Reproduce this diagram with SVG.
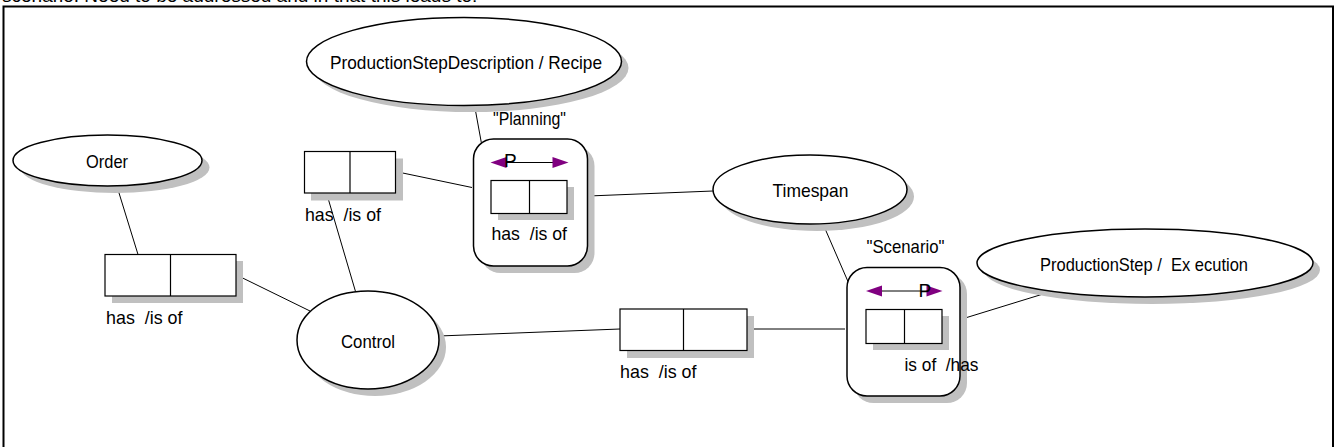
<svg xmlns="http://www.w3.org/2000/svg" width="1335" height="447" viewBox="0 0 1335 447">
  <defs>
    <style>
      text { font-family: "Liberation Sans", Arial, sans-serif; font-size: 19px; fill: #000; white-space: pre; }
      .frame { fill: #fff; stroke: #000; stroke-width: 2; }
      .shadow { fill: #c0c0c0; stroke: none; }
      .shape { fill: #fff; stroke: #000; stroke-width: 1.5; }
      .cell { fill: #fff; stroke: #000; stroke-width: 1.2; }
      .wire { fill: none; stroke: #000; stroke-width: 1; }
      .head { fill: #800080; stroke: none; }
    </style>
  </defs>

  <rect width="1335" height="447" fill="#fff"/>
  <!-- leading text line, mostly outside the page -->
  <text x="2" y="1.5" fill="#777">scenario. Need to be addressed and in that this leads to:</text>
  <rect class="frame" x="3.5" y="6.5" width="1329.5" height="450"/>

  <!-- connectors -->
  <g id="connectors">
    <line class="wire" x1="117" y1="186.5" x2="138" y2="254.5"/>
    <line class="wire" x1="236.5" y1="275" x2="310" y2="311"/>
    <line class="wire" x1="326.5" y1="193" x2="355.5" y2="291.5"/>
    <line class="wire" x1="395.5" y1="171.5" x2="472" y2="187.5"/>
    <line class="wire" x1="475" y1="108" x2="491" y2="195.5"/>
    <line class="wire" x1="576" y1="196.5" x2="713" y2="191"/>
    <line class="wire" x1="439" y1="336" x2="620" y2="329"/>
    <line class="wire" x1="747" y1="329" x2="845" y2="329"/>
    <line class="wire" x1="823" y1="224" x2="866" y2="323"/>
    <line class="wire" x1="950.5" y1="322.5" x2="1048" y2="292.5"/>
  </g>

  <!-- entity: ProductionStepDescription / Recipe -->
  <g id="recipe">
    <ellipse class="shadow" cx="471" cy="68" rx="157.5" ry="44"/>
    <ellipse class="shape" cx="464" cy="61.5" rx="157.5" ry="44"/>
    <text x="330" y="68.5" textLength="272" lengthAdjust="spacingAndGlyphs">ProductionStepDescription / Recipe</text>
  </g>

  <!-- entity: Order -->
  <g id="order">
    <ellipse class="shadow" cx="115" cy="167.5" rx="94.5" ry="25.5"/>
    <ellipse class="shape" cx="107.5" cy="160.5" rx="94.5" ry="25.5"/>
    <text x="86" y="167.5" textLength="42" lengthAdjust="spacingAndGlyphs">Order</text>
  </g>

  <!-- entity: Control -->
  <g id="control">
    <ellipse class="shadow" cx="375" cy="347" rx="71" ry="49"/>
    <ellipse class="shape" cx="368" cy="340" rx="71" ry="49"/>
    <text x="341" y="347.5" textLength="54" lengthAdjust="spacingAndGlyphs">Control</text>
  </g>

  <!-- entity: Timespan -->
  <g id="timespan">
    <ellipse class="shadow" cx="817" cy="196.5" rx="97" ry="34.5"/>
    <ellipse class="shape" cx="810" cy="189.5" rx="97" ry="34.5"/>
    <text x="772.5" y="197" textLength="76" lengthAdjust="spacingAndGlyphs">Timespan</text>
  </g>

  <!-- entity: ProductionStep / Execution -->
  <g id="execution">
    <ellipse class="shadow" cx="1152" cy="270" rx="168" ry="34"/>
    <ellipse class="shape" cx="1145" cy="263" rx="168" ry="34"/>
    <text x="1040" y="271" textLength="208" lengthAdjust="spacingAndGlyphs">ProductionStep /  Ex ecution</text>
  </g>

  <!-- relation: Order - Control -->
  <g id="rel-order-control">
    <rect class="shadow" x="112" y="261" width="131" height="42"/>
    <rect class="cell" x="105" y="254.5" width="131" height="41.5"/>
    <line class="cell" x1="170.5" y1="254.5" x2="170.5" y2="296"/>
    <text x="106" y="323.5" textLength="76.5" lengthAdjust="spacingAndGlyphs">has  /is of</text>
  </g>

  <!-- relation: Control - Planning -->
  <g id="rel-control-planning">
    <rect class="shadow" x="311" y="158.5" width="92" height="42"/>
    <rect class="cell" x="304.5" y="151.5" width="91" height="41.5"/>
    <line class="cell" x1="350" y1="151.5" x2="350" y2="193"/>
    <text x="305" y="220.5" textLength="76" lengthAdjust="spacingAndGlyphs">has  /is of</text>
  </g>

  <!-- objectified relation: "Planning" -->
  <g id="planning">
    <text x="493" y="125" textLength="73" lengthAdjust="spacingAndGlyphs">"Planning"</text>
    <rect class="shadow" x="480.5" y="146" width="114" height="127" rx="20"/>
    <rect class="shape" x="473.5" y="139" width="114" height="127" rx="20"/>
    <line class="wire" x1="500" y1="162.5" x2="560" y2="162.5"/>
    <polygon class="head" points="490.5,162.5 506.5,157 506.5,168"/>
    <polygon class="head" points="568.5,162.5 552.5,157 552.5,168"/>
    <text x="504" y="167">P</text>
    <rect class="shadow" x="498" y="187" width="76" height="33"/>
    <rect class="cell" x="491" y="180.5" width="76" height="33"/>
    <line class="cell" x1="529.5" y1="180.5" x2="529.5" y2="213.5"/>
    <text x="491.5" y="240" textLength="75.5" lengthAdjust="spacingAndGlyphs">has  /is of</text>
  </g>

  <!-- relation: Control - Scenario -->
  <g id="rel-control-scenario">
    <rect class="shadow" x="627" y="316" width="127" height="42"/>
    <rect class="cell" x="620" y="309" width="127" height="41.5"/>
    <line class="cell" x1="683.5" y1="309" x2="683.5" y2="350.5"/>
    <text x="620" y="377.5" textLength="76.5" lengthAdjust="spacingAndGlyphs">has  /is of</text>
  </g>

  <!-- objectified relation: "Scenario" -->
  <g id="scenario">
    <text x="866.5" y="252.5" textLength="78" lengthAdjust="spacingAndGlyphs">"Scenario"</text>
    <rect class="shadow" x="853.5" y="274" width="113.5" height="129" rx="20"/>
    <rect class="shape" x="847" y="267.5" width="113" height="128.5" rx="20"/>
    <line class="wire" x1="876" y1="291" x2="934" y2="291"/>
    <polygon class="head" points="866,291 882,285.5 882,296.5"/>
    <polygon class="head" points="942.5,291 926.5,285.5 926.5,296.5"/>
    <text x="918.5" y="297">P</text>
    <rect class="shadow" x="873" y="316" width="76" height="34"/>
    <rect class="cell" x="866" y="309.5" width="76" height="34"/>
    <line class="cell" x1="904.5" y1="309.5" x2="904.5" y2="343.5"/>
    <text x="904.5" y="371" textLength="74" lengthAdjust="spacingAndGlyphs">is of  /has</text>
  </g>
</svg>
